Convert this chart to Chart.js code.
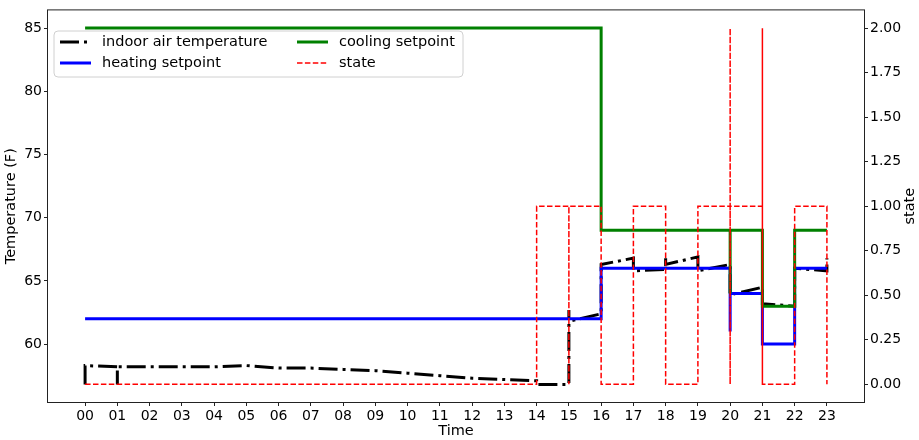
<!DOCTYPE html>
<html>
<head>
<meta charset="utf-8">
<script src="https://cdn.jsdelivr.net/npm/chart.js@4"></script>
<style>
    html, body { margin: 0; padding: 0; background: #fff; }
    #wrap { width: 919px; height: 440px; position: relative; }
</style>
</head>
<body>
<div id="wrap"><canvas id="thermoChart"></canvas></div>
<script>
const hourLabels = ["00", "01", "02", "03", "04", "05", "06", "07", "08", "09", "10", "11",
    "12", "13", "14", "15", "16", "17", "18", "19", "20", "21", "22", "23"];

// indoor air temperature (F)
const tempTimes  = [0, 0, 1, 1, 1, 2, 3, 4, 5, 6, 7, 8, 9, 10, 11, 12, 13, 14, 14, 15, 15, 15, 16, 16, 17, 17, 18, 18, 18, 19, 19, 20, 20, 21, 21, 22, 22, 23, 23];
const tempValues = [56.8, 58.3, 58.2, 56.8, 58.2, 58.2, 58.2, 58.2, 58.3, 58.1, 58.1, 58.0, 57.9, 57.7, 57.5, 57.3, 57.2, 57.1, 56.8, 56.8, 62.7, 61.8, 62.4, 66.3, 66.8, 65.8, 65.9, 66.8, 66.3, 66.9, 65.8, 66.3, 63.9, 64.5, 63.2, 63.0, 66.0, 65.8, 66.8];

// heating setpoint (F)
const heatTimes  = [0, 16, 16, 20, 20, 20, 21, 21, 22, 22, 23];
const heatValues = [62, 62, 66, 66, 61, 64, 64, 60, 60, 66, 66];

// cooling setpoint (F)
const coolTimes  = [0, 16, 16, 20, 20, 20, 21, 21, 22, 22, 23];
const coolValues = [85, 85, 69, 69, 64, 69, 69, 63, 63, 69, 69];

// state
const stateTimes  = [0, 14, 14, 15, 15, 15, 16, 16, 17, 17, 18, 18, 19, 19, 20, 20, 20, 20, 21, 21, 21, 21, 21, 22, 22, 23, 23];
const stateValues = [0, 0, 1, 1, 0, 1, 1, 0, 0, 1, 1, 0, 0, 1, 1, 2, 0, 1, 1, 2, 0, 2, 0, 0, 1, 1, 0];

const tempTicks = [60, 65, 70, 75, 80, 85];
const stateTicks = [0, 0.25, 0.5, 0.75, 1, 1.25, 1.5, 1.75, 2];

function pairs(xs, ys) {
    return xs.map((x, i) => ({ x: x, y: ys[i] }));
}

const FONT = "'DejaVu Sans', sans-serif";
Chart.defaults.font.family = FONT;
Chart.defaults.color = "#000";

// frame, right axis title and matplotlib-like legend
const extras = {
    id: "extras",
    afterDraw(chart) {
        const ctx = chart.ctx;
        const a = chart.chartArea;
        ctx.save();
        ctx.strokeStyle = "#222";
        ctx.lineWidth = 1;
        ctx.strokeRect(a.left - 0.5, a.top - 0.5, a.right - a.left + 1, a.bottom - a.top + 1);

        ctx.fillStyle = "#000";
        ctx.font = "14.5px " + FONT;
        ctx.textAlign = "center";
        ctx.textBaseline = "middle";
        ctx.translate(910, (a.top + a.bottom) / 2);
        ctx.rotate(-Math.PI / 2);
        ctx.fillText("state", 0, 0);
        ctx.restore();

        // legend box
        ctx.save();
        const bx = 54, by = 31, bw = 409, bh = 46, r = 4;
        ctx.beginPath();
        ctx.moveTo(bx + r, by);
        ctx.arcTo(bx + bw, by, bx + bw, by + bh, r);
        ctx.arcTo(bx + bw, by + bh, bx, by + bh, r);
        ctx.arcTo(bx, by + bh, bx, by, r);
        ctx.arcTo(bx, by, bx + bw, by, r);
        ctx.closePath();
        ctx.fillStyle = "rgba(255,255,255,0.8)";
        ctx.fill();
        ctx.strokeStyle = "#d0d0d0";
        ctx.lineWidth = 1;
        ctx.stroke();

        const slots = [[60, 42], [60, 63], [297, 42], [297, 63]];
        chart.data.datasets.forEach((ds, i) => {
            const [hx, hy] = slots[i];
            ctx.beginPath();
            ctx.setLineDash(ds.borderDash || []);
            ctx.lineWidth = ds.borderWidth;
            ctx.strokeStyle = ds.borderColor;
            ctx.lineCap = "butt";
            ctx.moveTo(hx, hy);
            ctx.lineTo(hx + 31, hy);
            ctx.stroke();
            ctx.setLineDash([]);
            ctx.fillStyle = "#000";
            ctx.font = "14.5px " + FONT;
            ctx.textAlign = "left";
            ctx.textBaseline = "middle";
            ctx.fillText(ds.label, hx + 42, hy);
        });
        ctx.restore();
    }
};

const tickGrid = { display: true, drawOnChartArea: false, drawTicks: true, tickLength: 4, color: "#222" };

new Chart(document.getElementById("thermoChart").getContext("2d"), {
    type: "line",
    data: {
        datasets: [
            {
                label: "indoor air temperature",
                data: pairs(tempTimes, tempValues),
                borderColor: "#000000",
                borderWidth: 3,
                borderDash: [19, 5, 3, 5],
                yAxisID: "y",
                order: 4
            },
            {
                label: "heating setpoint",
                data: pairs(heatTimes, heatValues),
                borderColor: "#0000ff",
                borderWidth: 3,
                yAxisID: "y",
                order: 3
            },
            {
                label: "cooling setpoint",
                data: pairs(coolTimes, coolValues),
                borderColor: "#008000",
                borderWidth: 3,
                yAxisID: "y",
                order: 2
            },
            {
                label: "state",
                data: pairs(stateTimes, stateValues),
                borderColor: "#ff0000",
                borderWidth: 1.5,
                borderDash: [5.5, 2.4],
                yAxisID: "y1",
                order: 1
            }
        ]
    },
    options: {
        responsive: true,
        maintainAspectRatio: false,
        animation: false,
        layout: { padding: { top: 4, left: 0, right: 0, bottom: 0 } },
        elements: {
            point: { radius: 0, hoverRadius: 0 },
            line: { tension: 0, fill: false, borderCapStyle: "butt", borderJoinStyle: "miter" }
        },
        plugins: {
            legend: { display: false },
            tooltip: { enabled: false }
        },
        scales: {
            x: {
                type: "linear",
                position: "bottom",
                min: -1.15,
                max: 24.15,
                afterBuildTicks: s => { s.ticks = hourLabels.map((_, i) => ({ value: i })); },
                afterFit: s => { s.height = 38; },
                ticks: {
                    autoSkip: false,
                    maxRotation: 0,
                    padding: 2,
                    font: { size: 14 },
                    callback: v => hourLabels[v]
                },
                grid: tickGrid,
                border: { display: false },
                title: { display: true, text: "Time", font: { size: 14.5 }, padding: { top: 0, bottom: 0 } }
            },
            y: {
                position: "left",
                min: 55.42,
                max: 86.4,
                afterBuildTicks: s => { s.ticks = tempTicks.map(v => ({ value: v })); },
                afterFit: s => { s.width = 48; },
                ticks: { padding: 2, font: { size: 14 } },
                grid: tickGrid,
                border: { display: false },
                title: { display: true, text: "Temperature (F)", font: { size: 14.5 }, padding: { top: 3, bottom: 0 } }
            },
            y1: {
                position: "right",
                min: -0.1,
                max: 2.1,
                afterBuildTicks: s => { s.ticks = stateTicks.map(v => ({ value: v })); },
                afterFit: s => { s.width = 55; },
                ticks: { padding: 2, font: { size: 14 }, callback: v => Number(v).toFixed(2) },
                grid: tickGrid,
                border: { display: false }
            }
        }
    },
    plugins: [extras]
});
</script>
</body>
</html>
